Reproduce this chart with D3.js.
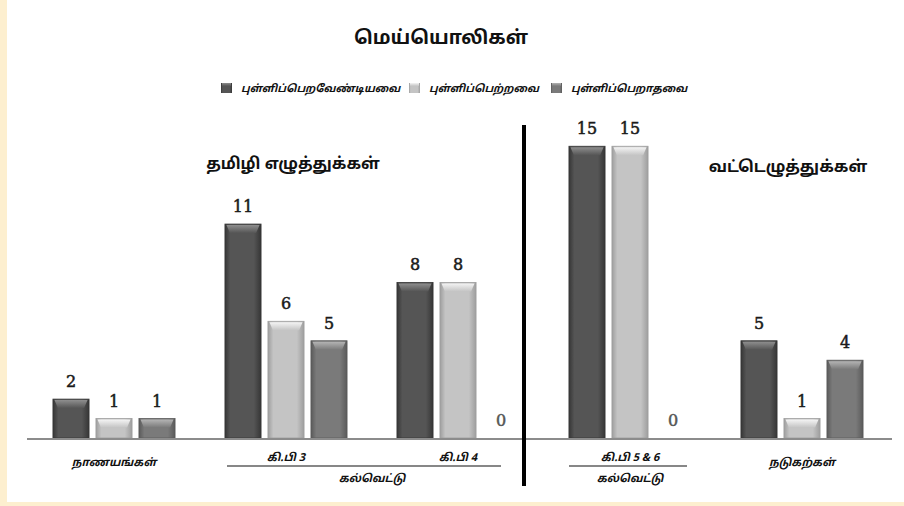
<!DOCTYPE html>
<html lang="ta">
<head>
<meta charset="UTF-8">
<title>மெய்யொலிகள்</title>
<script src="https://d3js.org/d3.v7.min.js"></script>
<style>
  body { margin: 0; background: #fff; }
  svg { display: block; }
  text { font-family: "Noto Sans Tamil", "Latha", "Noto Sans", "DejaVu Sans", sans-serif; fill: #111; }
  .title { font-size: 19px; font-weight: bold; }
  .legend text { font-size: 10.5px; font-style: italic; font-weight: bold; }
  .heading { font-size: 16px; font-weight: bold; }
  .value { font-family: "DejaVu Serif", serif; font-size: 16px; fill: #1a1a1a; stroke: #1a1a1a; stroke-width: 0.5px; }
  .cat { font-size: 11px; font-style: italic; font-weight: bold; }
</style>
</head>
<body>
<div id="chart"></div>
<script>
const categories = ["நாணயங்கள்", "கி.பி 3", "கி.பி 4", "கி.பி 5 & 6", "நடுகற்கள்"];
const seriesNames = ["புள்ளிப்பெறவேண்டியவை", "புள்ளிப்பெற்றவை", "புள்ளிப்பெறாதவை"];
const shouldGet = [2, 11, 8, 15, 5];
const got = [1, 6, 8, 15, 1];
const notGot = [1, 5, 0, 0, 4];
const seriesValues = [shouldGet, got, notGot];
const headings = ["தமிழி எழுத்துக்கள்", "வட்டெழுத்துக்கள்"];
const groupLabel = "கல்வெட்டு";

const width = 904, height = 506;
const baseY = 438;

// edge / middle / top colours for each series
const shades = [
  { edge: "#363636", mid: "#555555", top: "#8e8e8e" },
  { edge: "#9e9e9e", mid: "#c4c4c4", top: "#f4f4f4" },
  { edge: "#5a5a5a", mid: "#7a7a7a", top: "#b4b4b4" }
];

const svg = d3.select("#chart").append("svg")
  .attr("width", width)
  .attr("height", height);

// cream frame
svg.append("rect").attr("width", width).attr("height", height).attr("fill", "#fdefcf");
svg.append("rect").attr("x", 7).attr("y", 0).attr("width", width - 7).attr("height", 502).attr("fill", "#fff");

const defs = svg.append("defs");
shades.forEach((s, i) => {
  const h = defs.append("linearGradient").attr("id", "body" + i).attr("x1", 0).attr("x2", 1).attr("y1", 0).attr("y2", 0);
  h.append("stop").attr("offset", "0%").attr("stop-color", s.edge);
  h.append("stop").attr("offset", "15%").attr("stop-color", s.mid);
  h.append("stop").attr("offset", "80%").attr("stop-color", s.mid);
  h.append("stop").attr("offset", "100%").attr("stop-color", s.edge);
  const t = defs.append("linearGradient").attr("id", "top" + i).attr("x1", 0).attr("x2", 0).attr("y1", 0).attr("y2", 1);
  t.append("stop").attr("offset", "0%").attr("stop-color", s.top);
  t.append("stop").attr("offset", "100%").attr("stop-color", s.mid);
});

const x0 = d3.scaleBand()
  .domain(categories)
  .range([28, 888])
  .paddingInner(0.25)
  .paddingOuter(0.125);

const x1 = d3.scaleBand()
  .domain(d3.range(seriesNames.length))
  .range([0, x0.bandwidth()])
  .paddingInner(0.16)
  .paddingOuter(0.08);

const y = d3.scaleLinear()
  .domain([0, 16])
  .range([baseY, baseY - 16 * 19.45]);

// title
svg.append("text").attr("class", "title")
  .attr("x", 441).attr("y", 44).attr("text-anchor", "middle")
  .text("மெய்யொலிகள்");

// legend
const legendX = [221, 409, 551];
const legend = svg.append("g").attr("class", "legend");
seriesNames.forEach((name, i) => {
  const g = legend.append("g").attr("transform", `translate(${legendX[i]},83)`);
  g.append("rect").attr("width", 11).attr("height", 10).attr("fill", `url(#body${i})`);
  g.append("rect").attr("x", 1).attr("y", 0).attr("width", 9).attr("height", 3).attr("fill", `url(#top${i})`);
  g.append("text").attr("x", 20).attr("y", 9).text(name);
});

// bars
const data = [];
categories.forEach((c, ci) => {
  seriesValues.forEach((vals, si) => data.push({ cat: c, s: si, v: vals[ci] }));
});

const bars = svg.append("g").selectAll("g")
  .data(data)
  .join("g")
  .attr("transform", d => `translate(${x0(d.cat) + x1(d.s)},0)`);

const bw = x1.bandwidth();

bars.filter(d => d.v > 0).append("rect")
  .attr("x", 0)
  .attr("y", d => y(d.v))
  .attr("width", bw)
  .attr("height", d => baseY - y(d.v))
  .attr("fill", d => `url(#body${d.s})`)
  .attr("stroke", d => shades[d.s].edge)
  .attr("stroke-width", 0.8);

bars.filter(d => d.v > 0).append("path")
  .attr("d", d => {
    const t = y(d.v) + 1;
    return `M1.5,${t} L${bw - 1.5},${t} L${bw - 5},${t + 8} L5,${t + 8} Z`;
  })
  .attr("fill", d => `url(#top${d.s})`);

bars.append("text").attr("class", "value")
  .attr("x", bw / 2)
  .attr("y", d => y(d.v) - 12)
  .attr("text-anchor", "middle")
  .style("fill", d => d.v === 0 ? "#555" : null)
  .style("stroke", d => d.v === 0 ? "#555" : null)
  .text(d => d.v);

// axis line
svg.append("line")
  .attr("x1", 27).attr("x2", 892)
  .attr("y1", baseY + 1).attr("y2", baseY + 1)
  .attr("stroke", "#8c8c8c").attr("stroke-width", 2);

// category labels
const cx = c => x0(c) + x0.bandwidth() / 2;
svg.append("g").selectAll("text")
  .data(categories)
  .join("text")
  .attr("class", "cat")
  .attr("x", cx)
  .attr("y", (d, i) => i === 0 || i === 4 ? 466 : 461)
  .attr("text-anchor", "middle")
  .text(d => d);

// bracket lines for கல்வெட்டு
const brackets = [
  { from: 227, to: 501, mid: (cx(categories[1]) + cx(categories[2])) / 2 },
  { from: 569, to: 687, mid: cx(categories[3]) }
];
brackets.forEach(b => {
  svg.append("line")
    .attr("x1", b.from).attr("x2", b.to)
    .attr("y1", 466).attr("y2", 466)
    .attr("stroke", "#111").attr("stroke-width", 1.2);
  svg.append("text").attr("class", "cat")
    .attr("x", b.mid).attr("y", 482)
    .attr("text-anchor", "middle")
    .text(groupLabel);
});

// divider
svg.append("line")
  .attr("x1", 524).attr("x2", 524)
  .attr("y1", 125).attr("y2", 486)
  .attr("stroke", "#000").attr("stroke-width", 4);

// section headings
svg.append("text").attr("class", "heading")
  .attr("x", 293).attr("y", 169).attr("text-anchor", "middle")
  .text(headings[0]);
svg.append("text").attr("class", "heading")
  .attr("x", 788).attr("y", 172).attr("text-anchor", "middle")
  .text(headings[1]);
</script>
</body>
</html>
